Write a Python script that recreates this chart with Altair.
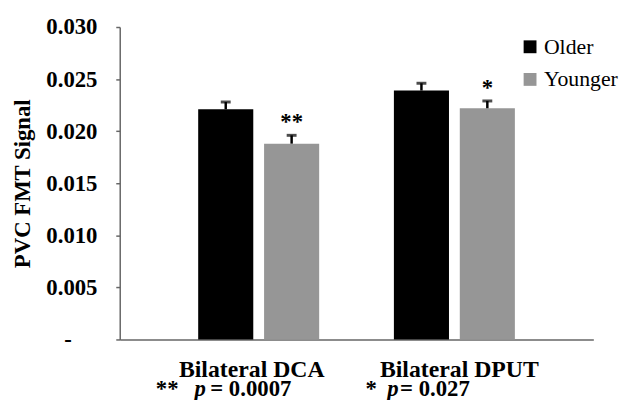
import altair as alt
import pandas as pd

# ---- data ----
regions = ["Bilateral DCA", "Bilateral DCA", "Bilateral DPUT", "Bilateral DPUT"]
cohorts = ["Older", "Younger", "Older", "Younger"]
means = [0.0221, 0.0188, 0.0239, 0.0222]
err_tops = [0.0228, 0.0196, 0.0246, 0.0229]
stars = ["", "**", "", "*"]

region_names = ["Bilateral DCA", "Bilateral DPUT"]
p_prefix = ["**", "*"]
p_rest = ["= 0.0007", "= 0.027"]

y_ticks = [0, 0.005, 0.010, 0.015, 0.020, 0.025, 0.030]
cohort_names = ["Older", "Younger"]
cohort_colors = ["#000000", "#969696"]

df = pd.DataFrame({"region": regions, "cohort": cohorts, "mean": means,
                   "top": err_tops, "star": stars})

SERIF = "Liberation Serif"
FS = 23
AXC = "#666666"

xscale = alt.Scale(domain=region_names, paddingInner=0, paddingOuter=0.21)
offscale = alt.Scale(domain=cohort_names, paddingInner=0.164, paddingOuter=0.567)
yscale = alt.Scale(domain=[0, 0.03], nice=False, zero=True)

x_axis = alt.Axis(title=None, ticks=False, tickSize=0, labelFont=SERIF, labelFontSize=24,
                  labelFontWeight="bold", labelColor="black", labelAngle=0,
                  labelBaseline="alphabetic", labelPadding=37,
                  labelOffset={"condition": {"test": "datum.value == 'Bilateral DCA'", "value": -7},
                               "value": 5},
                  domainColor=AXC, domainWidth=1.5)
y_axis = alt.Axis(values=y_ticks, grid=False, title="PVC FMT Signal",
                  labelExpr="datum.value == 0 ? '-' : format(datum.value, '.3f')",
                  labelFont=SERIF, labelFontSize=FS, labelFontWeight="bold", labelColor="black",
                  labelPadding={"condition": {"test": "datum.value == 0", "value": 45}, "value": 19},
                  tickSize=4, tickColor=AXC, tickWidth=1.5, domainColor=AXC, domainWidth=1.5,
                  titleFont=SERIF, titleFontSize=FS, titleFontWeight="bold", titleColor="black",
                  titlePadding=12)

base = alt.Chart(df).encode(
    x=alt.X("region:N", scale=xscale, axis=x_axis, sort=region_names),
    xOffset=alt.XOffset("cohort:N", scale=offscale, sort=cohort_names),
)

bars = base.mark_bar().encode(
    y=alt.Y("mean:Q", scale=yscale, axis=y_axis),
    color=alt.Color("cohort:N", scale=alt.Scale(domain=cohort_names, range=cohort_colors),
                    legend=alt.Legend(title=None, orient="none", legendX=404, legendY=9,
                                      symbolType="square", symbolSize=169, symbolStrokeWidth=0,
                                      labelFont=SERIF, labelFontSize=22, labelColor="black",
                                      labelOffset=3, rowPadding=11, padding=0)),
)

stems = base.mark_rule(color="black", strokeWidth=2.5).encode(
    y=alt.Y("mean:Q", scale=yscale), y2="top:Q")
caps = base.mark_tick(color="black", thickness=3, size=10, orient="horizontal").encode(
    y=alt.Y("top:Q", scale=yscale))
star_text = base.mark_text(font=SERIF, fontSize=FS, fontWeight="bold", color="black",
                           baseline="alphabetic", dy=-6).encode(
    y=alt.Y("top:Q", scale=yscale), text="star:N")

layers = [bars, stems, caps, star_text]

# p-value lines under each category (pieces: prefix, italic p, rest)
p_dx = [(-104, -65, -49), (-90, -68, -55)]
for i, name in enumerate(region_names):
    d = pd.DataFrame({"region": [name], "pre": [p_prefix[i]], "p": ["p"], "rest": [p_rest[i]]})
    pb = alt.Chart(d).encode(x=alt.X("region:N", scale=xscale, sort=region_names),
                             y=alt.datum(0))
    common = dict(font=SERIF, fontSize=FS, fontWeight="bold", color="black",
                  align="left", baseline="alphabetic", dy=57)
    layers.append(pb.mark_text(dx=p_dx[i][0], **common).encode(text="pre:N"))
    layers.append(pb.mark_text(dx=p_dx[i][1], fontStyle="italic", **common).encode(text="p:N"))
    layers.append(pb.mark_text(dx=p_dx[i][2], **common).encode(text="rest:N"))

chart = alt.layer(*layers).properties(
    width=479, height=316,
    autosize=alt.AutoSizeParams(type="none"),
    padding={"left": 113, "top": 17, "right": 30, "bottom": 59},
).configure(
    background="white", font=SERIF
).configure_view(
    stroke="transparent"
).configure_axis(
    labelFont=SERIF, titleFont=SERIF
).configure_legend(
    labelFont=SERIF
).configure_text(
    font=SERIF
)

chart.save("out.html", embed_options={"renderer": "svg", "actions": False})
